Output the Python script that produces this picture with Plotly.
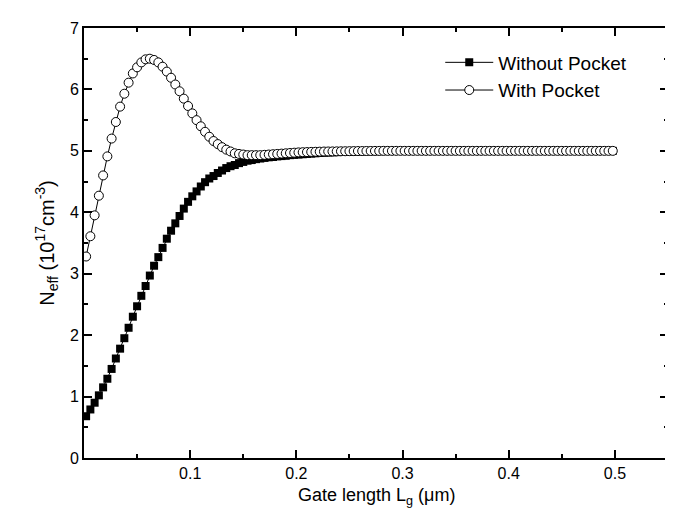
import plotly.graph_objects as go

# Gate length (um)
gate_length = [
    0.002, 0.006, 0.010, 0.014, 0.018, 0.022, 0.026, 0.030, 0.034, 0.038,
    0.042, 0.046, 0.050, 0.054, 0.058, 0.062, 0.066, 0.070, 0.074, 0.078,
    0.082, 0.086, 0.090, 0.094, 0.098, 0.102, 0.106, 0.110, 0.114, 0.118,
    0.122, 0.126, 0.130, 0.134, 0.138, 0.142, 0.146, 0.150, 0.154, 0.158,
    0.162, 0.166, 0.170, 0.174, 0.178, 0.182, 0.186, 0.190, 0.194, 0.198,
    0.202, 0.206, 0.210, 0.214, 0.218, 0.222, 0.226, 0.230, 0.234, 0.238,
    0.242, 0.246, 0.250, 0.254, 0.258, 0.262, 0.266, 0.270, 0.274, 0.278,
    0.282, 0.286, 0.290, 0.294, 0.298, 0.302, 0.306, 0.310, 0.314, 0.318,
    0.322, 0.326, 0.330, 0.334, 0.338, 0.342, 0.346, 0.350, 0.354, 0.358,
    0.362, 0.366, 0.370, 0.374, 0.378, 0.382, 0.386, 0.390, 0.394, 0.398,
    0.402, 0.406, 0.410, 0.414, 0.418, 0.422, 0.426, 0.430, 0.434, 0.438,
    0.442, 0.446, 0.450, 0.454, 0.458, 0.462, 0.466, 0.470, 0.474, 0.478,
    0.482, 0.486, 0.490, 0.494, 0.498,
]

# N_eff without pocket (1e17 cm^-3)
without_pocket = [
    0.68, 0.79, 0.90, 1.02, 1.15, 1.29, 1.45, 1.62, 1.78, 1.95,
    2.12, 2.30, 2.47, 2.64, 2.80, 2.97, 3.13, 3.27, 3.42, 3.57,
    3.70, 3.82, 3.94, 4.06, 4.17, 4.26, 4.34, 4.42, 4.49, 4.55,
    4.59, 4.64, 4.68, 4.72, 4.75, 4.77, 4.80, 4.82, 4.84, 4.85,
    4.865, 4.875, 4.885, 4.895, 4.90, 4.91, 4.915, 4.92, 4.93, 4.935,
    4.94, 4.945, 4.95, 4.955, 4.96, 4.965, 4.97, 4.973, 4.976, 4.979,
    4.982, 4.984, 4.986, 4.988, 4.99, 4.991, 4.992, 4.993, 4.994, 4.995,
    4.996, 4.997, 4.997, 4.998, 4.998, 4.999, 4.999, 5.0, 5.0, 5.0,
    5.0, 5.0, 5.0, 5.0, 5.0, 5.0, 5.0, 5.0, 5.0, 5.0,
    5.0, 5.0, 5.0, 5.0, 5.0, 5.0, 5.0, 5.0, 5.0, 5.0,
    5.0, 5.0, 5.0, 5.0, 5.0, 5.0, 5.0, 5.0, 5.0, 5.0,
    5.0, 5.0, 5.0, 5.0, 5.0, 5.0, 5.0, 5.0, 5.0, 5.0,
    5.0, 5.0, 5.0, 5.0, 5.0,
]

# N_eff with pocket (1e17 cm^-3)
with_pocket = [
    3.28, 3.61, 3.95, 4.27, 4.60, 4.91, 5.20, 5.47, 5.72, 5.93,
    6.11, 6.26, 6.36, 6.44, 6.49, 6.50, 6.48, 6.44, 6.37, 6.29,
    6.19, 6.08, 5.97, 5.85, 5.73, 5.61, 5.50, 5.40, 5.31, 5.23,
    5.16, 5.11, 5.06, 5.02, 4.99, 4.96, 4.95, 4.94, 4.93, 4.93,
    4.93, 4.93, 4.935, 4.94, 4.945, 4.95, 4.955, 4.96, 4.965, 4.97,
    4.975, 4.978, 4.98, 4.983, 4.985, 4.987, 4.989, 4.99, 4.991, 4.992,
    4.993, 4.994, 4.995, 4.996, 4.997, 4.997, 4.998, 4.998, 4.999, 4.999,
    5.0, 5.0, 5.0, 5.0, 5.0, 5.0, 5.0, 5.0, 5.0, 5.0,
    5.0, 5.0, 5.0, 5.0, 5.0, 5.0, 5.0, 5.0, 5.0, 5.0,
    5.0, 5.0, 5.0, 5.0, 5.0, 5.0, 5.0, 5.0, 5.0, 5.0,
    5.0, 5.0, 5.0, 5.0, 5.0, 5.0, 5.0, 5.0, 5.0, 5.0,
    5.0, 5.0, 5.0, 5.0, 5.0, 5.0, 5.0, 5.0, 5.0, 5.0,
    5.0, 5.0, 5.0, 5.0, 5.0,
]

x_ticks = [0.1, 0.2, 0.3, 0.4, 0.5]
x_minor = [0.05, 0.15, 0.25, 0.35, 0.45, 0.55]
y_ticks = [0, 1, 2, 3, 4, 5, 6, 7]
y_minor = [0.5, 1.5, 2.5, 3.5, 4.5, 5.5, 6.5]

x_title = "Gate length L<sub>g</sub> (μm)"
y_title = "N<sub>eff</sub> (10<sup>17</sup>cm<sup>-3</sup>)"

FONT = "Liberation Sans, Arial, sans-serif"

fig = go.Figure()
fig.add_trace(go.Scatter(
    x=gate_length, y=without_pocket, name="Without Pocket",
    mode="lines+markers",
    line=dict(color="black", width=1),
    marker=dict(symbol="square", size=8, color="black",
                line=dict(width=0)),
))
fig.add_trace(go.Scatter(
    x=gate_length, y=with_pocket, name="With Pocket",
    mode="lines+markers",
    line=dict(color="black", width=1),
    marker=dict(symbol="circle", size=9, color="white",
                line=dict(color="black", width=1)),
))

axis_common = dict(
    showline=True, linecolor="black", linewidth=2, mirror="ticks",
    ticks="inside", ticklen=8, tickwidth=1.5, tickcolor="black",
    showgrid=False, zeroline=False,
    tickfont=dict(family=FONT, size=16, color="black"),
)

fig.update_xaxes(
    range=[0, 0.55], tickvals=x_ticks, ticktext=[str(v) for v in x_ticks],
    minor=dict(tickvals=x_minor, ticks="inside", ticklen=4,
               tickwidth=1.5, tickcolor="black"),
    **axis_common,
)
fig.update_yaxes(
    range=[0, 7], tickvals=y_ticks, ticktext=[str(v) for v in y_ticks],
    minor=dict(tickvals=y_minor, ticks="inside", ticklen=4,
               tickwidth=1.5, tickcolor="black"),
    title=dict(text=y_title,
               font=dict(family=FONT, size=20, color="black"), standoff=10),
    **axis_common,
)

fig.add_annotation(
    text=x_title, xref="paper", yref="paper", x=0.5, y=-0.121,
    xanchor="center", yanchor="bottom", showarrow=False,
    font=dict(family=FONT, size=18, color="black"),
)

fig.update_layout(
    width=673, height=508,
    margin=dict(l=76, r=11, t=20, b=58),
    paper_bgcolor="white", plot_bgcolor="white",
    font=dict(family=FONT, color="black"),
    showlegend=True,
    legend=dict(x=0.61, y=0.964, xanchor="left", yanchor="top",
                bgcolor="rgba(0,0,0,0)", itemwidth=48,
                font=dict(family=FONT, size=19, color="black"),
                tracegroupgap=0),
)

fig.write_html("out.html")
